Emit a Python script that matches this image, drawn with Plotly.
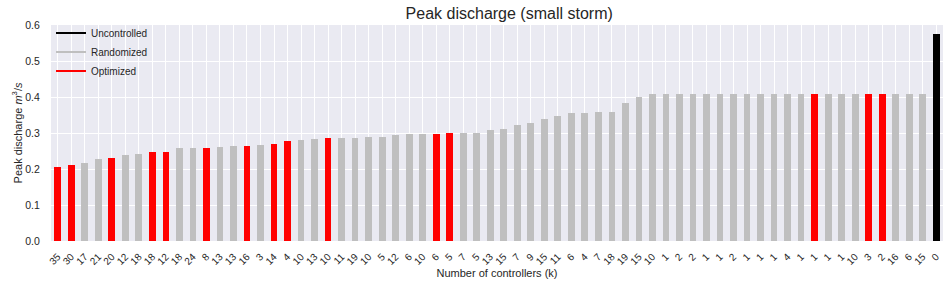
import plotly.graph_objects as go

# ---- data ----
k_labels = ["35", "30", "17", "21", "20", "12", "18", "18", "12", "18", "24", "8", "13", "13", "16", "3",
            "14", "4", "10", "13", "10", "11", "19", "10", "5", "12", "6", "10", "6", "5", "7", "5",
            "13", "15", "7", "9", "15", "11", "6", "4", "7", "18", "19", "15", "10", "1", "2", "2",
            "1", "1", "2", "1", "1", "1", "4", "1", "1", "1", "1", "10", "3", "2", "16", "6", "15", "0"]

peak = [0.206, 0.211, 0.217, 0.228, 0.231, 0.239, 0.242, 0.247, 0.247, 0.258, 0.258, 0.258,
        0.261, 0.264, 0.264, 0.267, 0.269, 0.278, 0.281, 0.283, 0.286, 0.286, 0.286, 0.289,
        0.289, 0.294, 0.297, 0.297, 0.297, 0.300, 0.300, 0.300, 0.308, 0.311, 0.322, 0.328,
        0.339, 0.347, 0.356, 0.356, 0.358, 0.358, 0.383, 0.400,
        0.408, 0.408, 0.408, 0.408, 0.408, 0.408, 0.408, 0.408, 0.408, 0.408, 0.408,
        0.408, 0.408, 0.408, 0.408, 0.408, 0.408, 0.408, 0.408, 0.408, 0.408,
        0.575]

group = ["Optimized", "Optimized", "Randomized", "Randomized", "Optimized", "Randomized",
         "Randomized", "Optimized", "Optimized", "Randomized", "Randomized", "Optimized",
         "Randomized", "Randomized", "Optimized", "Randomized", "Optimized", "Optimized",
         "Randomized", "Randomized", "Optimized", "Randomized", "Randomized", "Randomized",
         "Randomized", "Randomized", "Randomized", "Randomized", "Optimized", "Optimized",
         "Randomized", "Randomized", "Randomized", "Randomized", "Randomized", "Randomized",
         "Randomized", "Randomized", "Randomized", "Randomized", "Randomized", "Randomized",
         "Randomized", "Randomized", "Randomized", "Randomized", "Randomized", "Randomized",
         "Randomized", "Randomized", "Randomized", "Randomized", "Randomized", "Randomized",
         "Randomized", "Randomized", "Optimized", "Randomized", "Randomized", "Randomized",
         "Optimized", "Optimized", "Randomized", "Randomized", "Randomized", "Uncontrolled"]

legend_order = ["Uncontrolled", "Randomized", "Optimized"]
colors = {"Uncontrolled": "#000000", "Randomized": "#BFBFBF", "Optimized": "#FF0000"}

FONT = "Liberation Sans, Arial, DejaVu Sans, sans-serif"
TXT = "#262626"

xpos = list(range(len(peak)))

fig = go.Figure()
fig.add_trace(go.Bar(
    x=xpos, y=peak, width=0.5,
    marker=dict(color=[colors[g] for g in group], line=dict(width=0)),
    showlegend=False, hoverinfo="y",
))
for name in legend_order:
    fig.add_trace(go.Scatter(
        x=[None], y=[None], mode="lines", name=name,
        line=dict(color=colors[name], width=2),
    ))

fig.update_layout(
    width=950, height=284,
    margin=dict(l=51, r=7, t=25, b=43, autoexpand=False),
    paper_bgcolor="white",
    plot_bgcolor="#EAEAF2",
    font=dict(family=FONT, size=10, color=TXT),
    title=dict(text="Peak discharge (small storm)", x=0.536, xanchor="center",
               y=0.953, yanchor="middle", font=dict(size=16, color=TXT)),
    bargap=0,
    showlegend=True,
    legend=dict(x=0.0, y=1.03, xanchor="left", yanchor="top",
                bgcolor="rgba(0,0,0,0)", font=dict(size=10, color=TXT),
                itemwidth=30, tracegroupgap=0),
)
fig.update_xaxes(
    range=[-0.5, len(peak) - 0.5], automargin=False,
    tickmode="array", tickvals=xpos, ticktext=k_labels,
    tickangle=-45, tickfont=dict(size=10, color=TXT),
    showgrid=True, gridcolor="white", gridwidth=1,
    zeroline=False, showline=False,
    ticks="outside", ticklen=5, tickcolor="rgba(0,0,0,0)",
    title=dict(text="Number of controllers (k)", font=dict(size=11, color=TXT), standoff=0),
)
fig.update_yaxes(
    range=[0, 0.6], dtick=0.1, tickformat=".1f", automargin=False,
    tickfont=dict(size=10.5, color=TXT),
    showgrid=True, gridcolor="white", gridwidth=1,
    zeroline=False, showline=False,
    ticks="outside", ticklen=8, tickcolor="rgba(0,0,0,0)",
    title=dict(text="Peak discharge <i>m</i><sup>3</sup>/<i>s</i>",
               font=dict(size=11, color=TXT), standoff=0),
)

fig.write_html("out.html", config={"displayModeBar": False},
               post_script="document.body.style.margin='0';")
